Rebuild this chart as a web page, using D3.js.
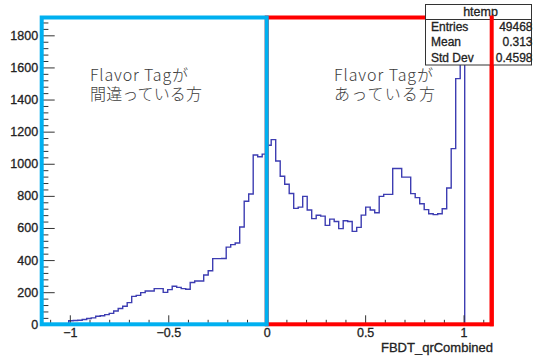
<!DOCTYPE html>
<html>
<head>
<meta charset="utf-8">
<script src="https://cdn.jsdelivr.net/npm/d3@7"></script>
<style>
  html, body { margin: 0; padding: 0; background: #fff; }
  svg { display: block; }
</style>
</head>
<body>
<svg id="chart" width="533" height="358"></svg>
<script>
// FBDT_qrCombined: 100 equal bins over [-8/7, 8/7]
const xMin = -8 / 7;
const xMax = 8 / 7;
const binCount = 100;
const counts = [
  0, 0, 0, 0, 0, 0,
  22, 24, 25, 30, 36, 40, 50, 53, 60, 68,
  83, 98, 112, 135, 174, 180, 197, 207, 207, 222,
  222, 199, 216, 237, 230, 222, 218, 260, 270, 270,
  307, 334, 409, 409, 410, 481, 496, 506, 606, 766,
  812, 1055, 1044, 1060, 1115, 1150, 1017, 922, 872, 815,
  722, 730, 797, 712, 658, 679, 674, 616, 655, 640,
  596, 645, 640, 579, 604, 680, 730, 712, 695, 797,
  809, 809, 970, 970, 917, 917, 814, 789, 751, 714,
  689, 683, 689, 720, 849, 1094, 1530, 1820, 0, 0,
  0, 0, 0, 0
];
const yMax = 1911;

const xTicks = [-1, -0.5, 0, 0.5, 1];
const xTickLabels = ["−1", "−0.5", "0", "0.5", "1"];
const xMinorTicks = [-1.1, -0.9, -0.8, -0.7, -0.6, -0.4, -0.3, -0.2, -0.1,
                     0.1, 0.2, 0.3, 0.4, 0.6, 0.7, 0.8, 0.9, 1.1];
const yTicks = [0, 200, 400, 600, 800, 1000, 1200, 1400, 1600, 1800];
const yMinorTicks = d3.range(0, 1900, 40).filter(v => v % 200 !== 0);

const axisTitle = "FBDT_qrCombined";
const statsTitle = "htemp";
const statsLabels = ["Entries", "Mean", "Std Dev"];
const statsValues = ["49468", "0.313", "0.4598"];

const wrongSide = ["Flavor Tagが", "間違っている方"];
const rightSide = ["Flavor Tagが", "あっている方"];

// layout
const frame = { left: 41.7, right: 491.7, top: 17.5, bottom: 324.3 };
const svg = d3.select("#chart");

const x = d3.scaleLinear().domain([xMin, xMax]).range([frame.left, frame.right]);
const y = d3.scaleLinear().domain([0, yMax]).range([frame.bottom, frame.top]);

const binWidth = (xMax - xMin) / binCount;
const steps = counts.map((c, i) => [xMin + i * binWidth, c]);
steps.push([xMax, 0]);

svg.append("clipPath").attr("id", "plotClip")
  .append("rect")
  .attr("x", frame.left).attr("y", frame.top)
  .attr("width", frame.right - frame.left)
  .attr("height", frame.bottom - frame.top);

// histogram outline
svg.append("path")
  .datum(steps)
  .attr("clip-path", "url(#plotClip)")
  .attr("fill", "none")
  .attr("stroke", "#3d3db2")
  .attr("stroke-width", 1.4)
  .attr("d", d3.line().x(d => x(d[0])).y(d => y(d[1])).curve(d3.curveStepAfter));

const tickColor = "#333";
const labelFont = "Liberation Sans, Arial, sans-serif";

// y axis: major + minor ticks pointing into the frame
const yAxisG = svg.append("g").attr("transform", `translate(${frame.left},0)`);
yAxisG.call(d3.axisLeft(y).tickValues(yTicks).tickSize(-13).tickPadding(3.6)
  .tickFormat(d3.format("d")));
const yMinorG = svg.append("g").attr("transform", `translate(${frame.left},0)`);
yMinorG.call(d3.axisLeft(y).tickValues(yMinorTicks).tickSize(-6.7).tickFormat(""));

// x axis
const xAxisG = svg.append("g").attr("transform", `translate(0,${frame.bottom})`);
xAxisG.call(d3.axisBottom(x).tickValues(xTicks).tickSize(-9).tickPadding(4.2)
  .tickFormat((d, i) => xTickLabels[i]));
const xMinorG = svg.append("g").attr("transform", `translate(0,${frame.bottom})`);
xMinorG.call(d3.axisBottom(x).tickValues(xMinorTicks).tickSize(-4.5).tickFormat(""));

[yAxisG, yMinorG, xAxisG, xMinorG].forEach(g => {
  g.select(".domain").remove();
  g.selectAll(".tick line").attr("stroke", tickColor).attr("stroke-width", 1);
  g.selectAll(".tick text")
    .attr("fill", "#222")
    .attr("stroke", "#222")
    .attr("stroke-width", 0.3)
    .style("font-family", labelFont)
    .style("font-size", "12.5px");
});

// axis title
svg.append("text")
  .attr("x", 493).attr("y", 351.5)
  .attr("text-anchor", "end")
  .attr("fill", "#222")
  .attr("stroke", "#222")
  .attr("stroke-width", 0.3)
  .style("font-family", labelFont)
  .style("font-size", "13px")
  .text(axisTitle);

// region outlines: correct tag (red) and wrong tag (blue)
const mid = x(0);
svg.append("rect")
  .attr("x", mid).attr("y", frame.top)
  .attr("width", frame.right - mid).attr("height", frame.bottom - frame.top)
  .attr("fill", "none").attr("stroke", "#ff0000").attr("stroke-width", 4);
svg.append("rect")
  .attr("x", frame.left).attr("y", frame.top)
  .attr("width", mid - frame.left).attr("height", frame.bottom - frame.top)
  .attr("fill", "none").attr("stroke", "#00b0f0").attr("stroke-width", 4);

// statistics box
const box = { x: 425.5, y: 4.5, w: 106, h: 60.5 };
const statsG = svg.append("g");
statsG.append("rect")
  .attr("x", box.x).attr("y", box.y).attr("width", box.w).attr("height", box.h)
  .attr("fill", "#fff").attr("stroke", "#333").attr("stroke-width", 1);
statsG.append("line")
  .attr("x1", box.x).attr("x2", box.x + box.w)
  .attr("y1", 19.5).attr("y2", 19.5)
  .attr("stroke", "#333").attr("stroke-width", 1);
statsG.append("text")
  .attr("x", box.x + box.w / 2 + 2).attr("y", 15.5)
  .attr("text-anchor", "middle")
  .attr("fill", "#222")
  .attr("stroke", "#222").attr("stroke-width", 0.3)
  .style("font-family", labelFont).style("font-size", "12.5px")
  .text(statsTitle);
const rowBase = [30.5, 46, 61.5];
statsLabels.forEach((lab, i) => {
  statsG.append("text")
    .attr("x", 431).attr("y", rowBase[i])
    .attr("fill", "#222")
    .attr("stroke", "#222").attr("stroke-width", 0.3)
    .style("font-family", labelFont).style("font-size", "12px")
    .text(lab);
  statsG.append("text")
    .attr("x", 532.5).attr("y", rowBase[i])
    .attr("text-anchor", "end")
    .attr("fill", "#222")
    .attr("stroke", "#222").attr("stroke-width", 0.3)
    .style("font-family", labelFont).style("font-size", "12px")
    .text(statsValues[i]);
});

// right edge of the red region stays visible over the box
svg.append("line")
  .attr("x1", frame.right).attr("x2", frame.right)
  .attr("y1", frame.top - 2).attr("y2", frame.bottom + 2)
  .attr("stroke", "#ff0000").attr("stroke-width", 4);

// region captions
const noteFont = "'Noto Sans CJK JP', 'Noto Sans', sans-serif";
function caption(lines, x0, widths) {
  const baselines = [80.5, 100];
  lines.forEach((t, i) => {
    svg.append("text")
      .attr("x", x0).attr("y", baselines[i])
      .attr("fill", "#3c3c3c")
      .attr("textLength", widths[i])
      .attr("lengthAdjust", "spacing")
      .style("font-family", noteFont)
      .style("font-weight", 300)
      .style("font-size", "16px")
      .text(t);
  });
}
caption(wrongSide, 90, [98, 112]);
caption(rightSide, 334, [99, 101]);
</script>
</body>
</html>
